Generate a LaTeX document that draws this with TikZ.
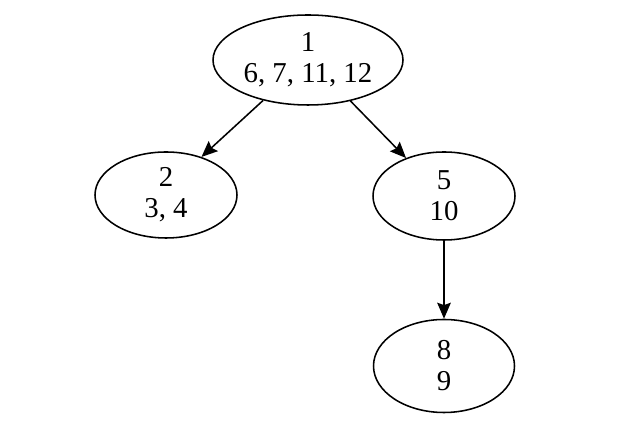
\documentclass[tikz,border=0pt]{standalone}
\usepackage{fontspec}
\setmainfont{Liberation Serif}
\usetikzlibrary{arrows.meta,shapes.geometric}

\begin{document}
\begin{tikzpicture}[
    font=\fontsize{20.5pt}{22pt}\selectfont,
    blob/.style={draw, ellipse, line width=1.1pt, align=center, inner sep=0pt},
    flow/.style={draw, line width=1.1pt, -{Stealth[length=4mm,width=3.4mm,inset=0.6mm]}}]

  \useasboundingbox (0mm,0mm) rectangle (154.5mm,109.5mm);

  \node[blob, minimum width=47.5mm, minimum height=22.5mm] (n1) at (77mm,94.5mm)
    {1\\6, 7, 11, 12};
  \node[blob, minimum width=35.5mm, minimum height=21.5mm] (n2) at (41.5mm,60.75mm)
    {2\\3, 4};
  \node[blob, minimum width=35.5mm, minimum height=22mm] (n5) at (111mm,60.5mm)
    {5\\10};
  \node[blob, minimum width=35.25mm, minimum height=23.25mm] (n8) at (111mm,18mm)
    {8\\9};

  \draw[flow] (n1.222) -- (n2.47);
  \draw[flow] (n1.316) -- (n5.135);
  \draw[flow] (n5.south) -- (n8.north);
\end{tikzpicture}
\end{document}
